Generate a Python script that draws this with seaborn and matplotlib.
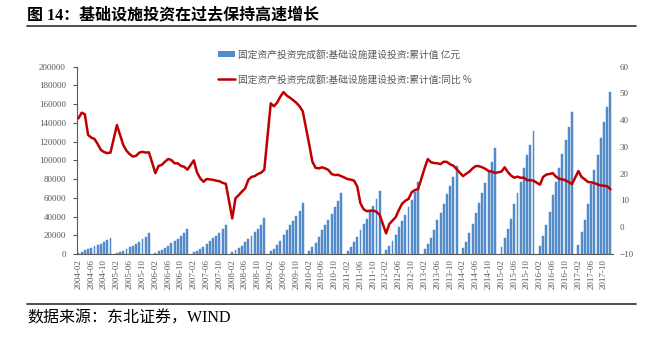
import numpy as np
import pandas as pd
import matplotlib
matplotlib.use("Agg")
import matplotlib.pyplot as plt
import seaborn as sns
from matplotlib.patches import Patch
from matplotlib.lines import Line2D

# ---- data (Feb..Dec of each year; Jan is not published) ----
inv_2004 = [1500, 2600, 3900, 5300, 6800, 8100, 9600, 11200, 12900, 14800, 17400]
inv_2005 = [1300, 2400, 3700, 5300, 7100, 9000, 10900, 13200, 15700, 18400, 22100]
inv_2006 = [1500, 2900, 4600, 6500, 9000, 11300, 13400, 16100, 18700, 22200, 26800]
inv_2007 = [1800, 3600, 5500, 7600, 11200, 14000, 16700, 19300, 22300, 26500, 31300]
inv_2008 = [1900, 3800, 6200, 9000, 12700, 16200, 19400, 23200, 26900, 31300, 38400]
inv_2009 = [2800, 5700, 9600, 13900, 20100, 25300, 30500, 35500, 40500, 46000, 54800]
inv_2010 = [3600, 7600, 12100, 17900, 25300, 30800, 36100, 43000, 50300, 56800, 64800]
inv_2011 = [3700, 7800, 12600, 18100, 26000, 31800, 37500, 44400, 51500, 58400, 67300]
inv_2012 = [3800, 8500, 13900, 20000, 28500, 35500, 41700, 50000, 58000, 66500, 77000]
inv_2013 = [5000, 11200, 17600, 25400, 36000, 43900, 53200, 63600, 72500, 81800, 94000]
inv_2014 = [6100, 13200, 22000, 31900, 44000, 54000, 64700, 76000, 87800, 98600, 112900]
inv_2015 = [7100, 16600, 26600, 37800, 53200, 64700, 77100, 91300, 105600, 116400, 131600]
inv_2016 = [8200, 19500, 31200, 45200, 63500, 76600, 91500, 106800, 121800, 136000, 152000]
inv_2017 = [9900, 23300, 36800, 52900, 74800, 89300, 106000, 123500, 140600, 157000, 172700]

yoy_2004 = [40.7, 42.8, 42.2, 34.5, 33.5, 33.0, 31.1, 28.9, 28.1, 27.7, 27.9]
yoy_2005 = [38.2, 34.5, 30.7, 28.6, 27.3, 26.4, 26.7, 27.9, 28.2, 27.9, 28.0]
yoy_2006 = [20.2, 22.9, 23.3, 24.5, 25.5, 25.1, 23.9, 23.9, 22.9, 22.6, 21.5]
yoy_2007 = [25.0, 20.5, 18.3, 17.0, 18.0, 17.9, 17.7, 17.4, 17.2, 16.6, 16.2]
yoy_2008 = [3.3, 10.8, 12.0, 13.3, 14.5, 17.7, 18.8, 19.1, 19.9, 20.4, 21.5]
yoy_2009 = [46.3, 45.2, 46.6, 48.8, 50.5, 49.2, 48.4, 47.5, 46.5, 45.2, 43.3]
yoy_2010 = [31.0, 24.5, 22.2, 22.0, 22.4, 22.0, 21.4, 19.9, 19.5, 19.6, 19.1]
yoy_2011 = [18.0, 17.8, 17.4, 15.2, 8.9, 6.7, 6.0, 6.2, 6.2, 5.8, 4.6]
yoy_2012 = [-2.3, 1.2, 2.5, 3.8, 6.5, 8.8, 9.9, 10.6, 13.1, 13.9, 14.3]
yoy_2013 = [22.0, 25.5, 24.3, 24.0, 23.9, 23.6, 24.5, 24.4, 23.5, 23.0, 21.7]
yoy_2014 = [19.1, 20.0, 20.8, 22.0, 22.9, 22.8, 22.4, 21.8, 21.0, 20.8, 20.3]
yoy_2015 = [20.8, 22.4, 20.6, 19.3, 18.5, 18.9, 18.5, 18.5, 17.6, 17.6, 17.4]
yoy_2016 = [15.9, 18.8, 19.7, 19.9, 20.2, 18.9, 18.1, 17.9, 17.5, 16.9, 16.1]
yoy_2017 = [21.0, 18.8, 17.9, 16.9, 16.8, 16.5, 16.0, 15.6, 15.5, 15.3, 14.2]

years = list(range(2004, 2018))
inv_by_year = [inv_2004, inv_2005, inv_2006, inv_2007, inv_2008, inv_2009, inv_2010,
               inv_2011, inv_2012, inv_2013, inv_2014, inv_2015, inv_2016, inv_2017]
yoy_by_year = [yoy_2004, yoy_2005, yoy_2006, yoy_2007, yoy_2008, yoy_2009, yoy_2010,
               yoy_2011, yoy_2012, yoy_2013, yoy_2014, yoy_2015, yoy_2016, yoy_2017]

legend_bar = "固定资产投资完成额:基础设施建设投资:累计值 亿元"
legend_line = "固定资产投资完成额:基础设施建设投资:累计值:同比 %"
title = "图 14：基础设施投资在过去保持高速增长"
source = "数据来源：东北证券，WIND"

# ---- build table: every month slot 2004-02 .. 2017-12 (Jan slots empty) ----
rows = []
for y, iv, yy in zip(years, inv_by_year, yoy_by_year):
    for mo in range(1, 13):
        if y == 2004 and mo == 1:
            continue
        if mo == 1:
            rows.append((f"{y}-01", np.nan, np.nan))
        else:
            rows.append((f"{y}-{mo:02d}", iv[mo - 2], yy[mo - 2]))
df = pd.DataFrame(rows, columns=["month", "inv", "yoy"])
df["pos"] = np.arange(len(df))
labels = df["month"].tolist()

# ---- figure ----
sns.set_style("white")
plt.rcParams["font.family"] = ["Noto Sans CJK SC", "DejaVu Sans"]

W, H = 659, 343
fig = plt.figure(figsize=(W / 100, H / 100), dpi=100)
ax = fig.add_axes([77 / W, 1 - 254 / H, (613 - 77) / W, (254 - 66.7) / H])

bar_color = "#538AC8"
line_color = "#C00000"
gray = "#595959"

sns.barplot(data=df, x="month", y="inv", order=labels, ax=ax, color=bar_color,
            saturation=1, width=0.6, errorbar=None,
            edgecolor=bar_color, linewidth=0.35)

ax2 = ax.twinx()
dl = df.dropna(subset=["yoy"])
sns.lineplot(x=dl["pos"].values, y=dl["yoy"].values, ax=ax2, color=line_color,
             linewidth=1.8, sort=True)

ax.set_xlim(-0.45, len(df) - 0.2)
ax.set_ylim(0, 200000)
ax.set_yticks(np.arange(0, 200001, 20000))
ax2.set_ylim(-10, 60)
ax2.set_yticks(np.arange(-10, 61, 10))

ax.set_xticks(np.arange(0, len(df), 4))
ax.set_xticklabels(labels[::4], rotation=90)
ax.set_xlabel("")
ax.set_ylabel("")
ax2.set_ylabel("")

tick_font = "Liberation Serif"
for a in (ax, ax2):
    for sp in ("top", "right"):
        a.spines[sp].set_visible(False)
ax2.spines["left"].set_visible(False)
ax2.spines["bottom"].set_visible(False)
ax.spines["left"].set_color(gray)
ax.spines["bottom"].set_color(gray)
ax.spines["left"].set_linewidth(0.8)
ax.spines["bottom"].set_linewidth(0.8)

ax.tick_params(axis="y", direction="out", length=3, width=0.8, color=gray,
               labelsize=6.5, labelcolor=gray, pad=5)
ax.tick_params(axis="x", direction="out", length=2.5, width=0.6, color=gray,
               labelsize=6.5, labelcolor=gray, pad=1.5)
ax2.tick_params(axis="y", length=0, labelsize=6.5, labelcolor=gray, pad=5)
for lab in ax.get_xticklabels() + ax.get_yticklabels() + ax2.get_yticklabels():
    lab.set_fontfamily(tick_font)

# legend
handles = [Patch(facecolor=bar_color, edgecolor="none"),
           Line2D([0], [0], color=line_color, lw=1.8)]
leg = fig.legend(handles, [legend_bar, legend_line], loc="center left",
                 bbox_to_anchor=(214 / W, 1 - 67 / H), frameon=False,
                 fontsize=7, handlelength=1.8, handleheight=0.6,
                 handletextpad=0.3, labelspacing=1.55, borderaxespad=0)
for t in leg.get_texts():
    t.set_color(gray)

# title, rules, source
fig.text(27 / W, 1 - 15 / H, title, fontsize=11.5, fontweight="bold",
         va="center", ha="left", color="black",
         family=["Liberation Serif", "Noto Sans CJK SC"])
fig.add_artist(Line2D([27 / W, 636 / W], [1 - 25.5 / H, 1 - 25.5 / H],
                      transform=fig.transFigure, color="#404040", lw=1.3))
fig.add_artist(Line2D([27 / W, 636 / W], [1 - 303.5 / H, 1 - 303.5 / H],
                      transform=fig.transFigure, color="#404040", lw=1.3))
fig.text(27 / W, 1 - 318.5 / H, source, fontsize=11.5, va="center", ha="left",
         color="black", family=["Liberation Serif", "Noto Sans CJK SC"])

fig.savefig("out.png", dpi=100)
